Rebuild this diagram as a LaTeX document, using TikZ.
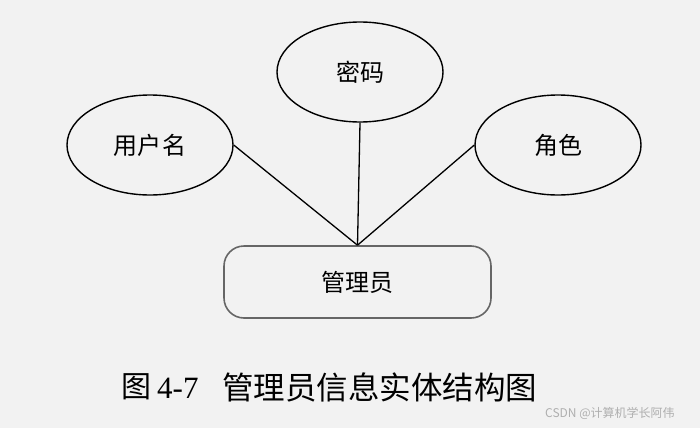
\documentclass[tikz,border=0pt]{standalone}
\usepackage{fontspec}
\newfontfamily\cjk{Noto Sans CJK SC}
\newfontfamily\latnum{Liberation Serif}
\usetikzlibrary{shapes.geometric}
\definecolor{bgc}{RGB}{242,242,242}
\definecolor{boxc}{RGB}{102,102,102}
\definecolor{wmc}{RGB}{175,175,175}
\tikzset{
  attr/.style={ellipse, draw=black, line width=1.4pt, minimum width=166pt, minimum height=100pt, inner sep=0pt, font=\cjk\fontsize{24}{24}\selectfont},
  entity/.style={rectangle, rounded corners=20pt, draw=boxc, line width=1.6pt, minimum width=267pt, minimum height=72pt, inner sep=0pt, font=\cjk\fontsize{24}{24}\selectfont},
  conn/.style={line width=1.3pt, draw=black},
  captxt/.style={inner sep=0pt, anchor=west, font=\cjk\fontsize{30}{30}\selectfont}
}
\begin{document}
\begin{tikzpicture}[x=1pt,y=-1pt]
\fill[bgc] (0,0) rectangle (700,428);
\useasboundingbox (0,0) rectangle (700,428);
\node[attr] (user) at (150,145) {用户\hspace{2pt}名};
\node[attr] (pwd) at (360,72) {密码};
\node[attr] (role) at (558,145) {角色};
\node[entity] (admin) at (357.5,282) {管理员};
\draw[conn] (user.east) -- (admin.north);
\draw[conn] (pwd.south) -- (admin.north);
\draw[conn] (role.west) -- (admin.north);
\node[captxt] (c1) at (121,387) {图};
\node[captxt, font=\latnum\fontsize{31}{31}\selectfont] (c2) at (157,388) {4-7};
\node[captxt, font=\cjk\fontsize{31.5}{31.5}\selectfont] (c3) at (222,387) {管理员信息实体结构图};
\node[inner sep=0pt, anchor=west, text=wmc, font=\cjk\fontsize{12}{12}\selectfont] (wm) at (545,413) {CSDN @计算机学长阿伟};
\end{tikzpicture}
\end{document}
